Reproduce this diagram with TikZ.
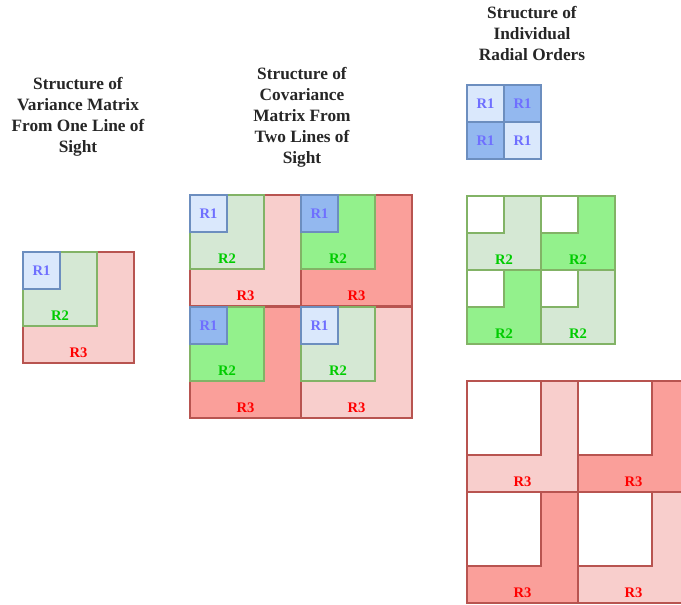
\documentclass[tikz,border=0pt]{standalone}
\usepackage{fontspec}
\setmainfont{Liberation Serif}
\usetikzlibrary{positioning}
\definecolor{blueLight}{HTML}{DAE8FC}
\definecolor{blueDark}{HTML}{93B8EF}
\definecolor{blueLine}{HTML}{6C8EBF}
\definecolor{greenLight}{HTML}{D5E8D4}
\definecolor{greenBright}{HTML}{93F18C}
\definecolor{greenLine}{HTML}{82B366}
\definecolor{redLight}{HTML}{F8CECC}
\definecolor{redDark}{HTML}{FA9F9A}
\definecolor{redLine}{HTML}{B85450}
\definecolor{txtR1}{HTML}{6F6FFF}
\definecolor{txtR2}{HTML}{00CC00}
\definecolor{txtR3}{HTML}{FF0000}

\begin{document}
\begin{tikzpicture}[
        x=1pt, y=-1pt,
        title/.style={font=\fontsize{17.3}{21}\selectfont\bfseries, align=center, text=black!85},
        sq/.style={draw, line width=1.6pt, anchor=north west, inner sep=0pt, outer sep=0pt},
        sqA/.style={sq, draw=blueLine, minimum size=37pt},
        sqB/.style={sq, draw=greenLine, minimum size=74pt},
        sqC/.style={sq, draw=redLine, minimum size=111pt},
        hole/.style={sq, fill=white},
        lab/.style={font=\fontsize{14.6}{15}\selectfont\bfseries, inner sep=0pt},
        labA/.style={lab, text=txtR1},
        labB/.style={lab, text=txtR2},
        labC/.style={lab, text=txtR3},
    ]
        \useasboundingbox (0,0) rectangle (681,605);
        \clip (0,0) rectangle (681,605);

        % Titles
        \node[title] (tVar) at (78,117)   {Structure of\\Variance Matrix\\From One Line of\\Sight};
        \node[title] (tCov) at (302,117)  {Structure of\\Covariance\\Matrix From\\Two Lines of\\Sight};
        \node[title] (tInd) at (532,33.5) {Structure of\\Individual\\Radial Orders};

        % Variance matrix, one line of sight
        \node[sqC, fill=redLight]   (v3) at (23,252) {};
        \node[sqB, fill=greenLight] (v2) at (v3.north west) {};
        \node[sqA, fill=blueLight]  (v1) at (v3.north west) {};
        \node[labA] (v1l) at (v1) {R1};
        \node[labB] (v2l) at ([yshift=10.5pt]v2.south) {R2};
        \node[labC] (v3l) at ([yshift=10.5pt]v3.south) {R3};

        % Covariance matrix, two lines of sight
        \foreach \qx/\qy/\fc/\fb/\fa/\nm in {190/195/redLight/greenLight/blueLight/a,
                301/195/redDark/greenBright/blueDark/b,
                190/307/redDark/greenBright/blueDark/c,
                301/307/redLight/greenLight/blueLight/d} {
            \node[sqC, fill=\fc] (c3\nm) at (\qx,\qy) {};
            \node[sqB, fill=\fb] (c2\nm) at (c3\nm.north west) {};
            \node[sqA, fill=\fa] (c1\nm) at (c3\nm.north west) {};
            \node[labA] (c1\nm l) at (c1\nm) {R1};
            \node[labB] (c2\nm l) at ([yshift=10.5pt]c2\nm.south) {R2};
            \node[labC] (c3\nm l) at ([yshift=10.5pt]c3\nm.south) {R3};
        }

        % Individual radial orders: R1
        \foreach \qx/\qy/\fa/\nm in {467/85/blueLight/a, 504/85/blueDark/b,
                467/122/blueDark/c, 504/122/blueLight/d} {
            \node[sqA, fill=\fa] (r1\nm) at (\qx,\qy) {};
            \node[labA] (r1\nm l) at (r1\nm) {R1};
        }

        % Individual radial orders: R2
        \foreach \qx/\qy/\fb/\nm in {467/196/greenLight/a, 541/196/greenBright/b,
                467/270/greenBright/c, 541/270/greenLight/d} {
            \node[sqB, fill=\fb] (r2\nm) at (\qx,\qy) {};
            \node[hole, draw=greenLine, minimum size=37pt] (h2\nm) at (r2\nm.north west) {};
            \node[labB] (r2\nm l) at ([yshift=10.5pt]r2\nm.south) {R2};
        }

        % Individual radial orders: R3
        \foreach \qx/\qy/\fc/\nm in {467/381/redLight/a, 578/381/redDark/b,
                467/492/redDark/c, 578/492/redLight/d} {
            \node[sqC, fill=\fc] (r3\nm) at (\qx,\qy) {};
            \node[hole, draw=redLine, minimum size=74pt] (h3\nm) at (r3\nm.north west) {};
            \node[labC] (r3\nm l) at ([yshift=10.5pt]r3\nm.south) {R3};
        }
    \end{tikzpicture}
\end{document}
